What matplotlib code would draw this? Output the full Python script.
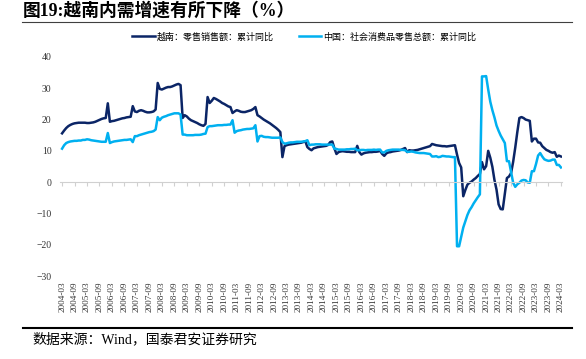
import numpy as np
import pandas as pd
import matplotlib
matplotlib.use("Agg")
import matplotlib.pyplot as plt
from matplotlib.lines import Line2D

# monthly cumulative yoy (%), 2004-03 .. 2024-03
months = pd.period_range("2004-03", "2024-03", freq="M")

vietnam_yoy = [
    15.6, 16.5, 17.3, 17.9, 18.3, 18.6, 18.8, 18.9, 19.0, 19.0,              # 2004 (Mar-Dec)
    19.0, 19.0, 18.9, 18.9, 19.0, 19.1, 19.3, 19.6, 19.9, 20.2, 20.4, 20.5,  # 2005
    25.2, 19.3, 19.5, 19.6, 19.8, 20.0, 20.2, 20.4, 20.5, 20.7, 20.8, 20.9,  # 2006
    24.3, 22.6, 22.4, 22.8, 23.0, 22.8, 22.5, 22.3, 22.3, 22.4, 22.6, 23.2,  # 2007
    31.7, 29.8, 29.6, 29.9, 30.2, 30.4, 30.4, 30.6, 30.9, 31.2, 31.4, 31.0,  # 2008
    20.5, 21.4, 21.0, 20.3, 19.8, 19.5, 19.2, 18.9, 18.5, 18.2, 18.0, 18.6,  # 2009
    27.2, 25.3, 26.0, 26.9, 26.6, 26.2, 25.8, 25.3, 25.0, 24.6, 24.2, 24.0,  # 2010
    22.1, 22.6, 23.0, 22.8, 22.5, 22.4, 22.4, 22.6, 22.8, 23.0, 23.4, 24.0,  # 2011
    21.4, 21.0, 20.5, 20.0, 19.6, 19.2, 18.8, 18.3, 17.8, 17.3, 16.7, 16.0,  # 2012
    8.0, 11.5, 11.8, 12.0, 12.1, 12.2, 12.3, 12.4, 12.5, 12.6, 12.8, 13.1,   # 2013
    11.2, 10.6, 10.2, 10.8, 11.0, 11.2, 11.3, 11.4, 11.5, 11.6, 11.9, 12.8,  # 2014
    13.0, 10.8, 9.0, 9.6, 9.8, 9.9, 9.8, 9.7, 9.7, 9.6, 9.6, 9.6,           # 2015
    11.6, 9.6, 8.8, 9.2, 9.4, 9.5, 9.6, 9.6, 9.7, 9.7, 9.8, 10.0,           # 2016
    9.0, 8.4, 9.2, 9.5, 9.6, 9.8, 9.9, 10.0, 10.1, 10.3, 10.6, 10.9,        # 2017
    9.6, 10.2, 10.1, 10.1, 10.2, 10.3, 10.5, 10.7, 10.9, 11.1, 11.3, 11.5,  # 2018
    12.2, 12.0, 11.8, 11.7, 11.6, 11.5, 11.5, 11.4, 11.5, 11.6, 11.7, 11.8,  # 2019
    8.8, 6.1, 4.7, -4.5, -2.5, -0.8, -0.2, 0.2, 0.8, 1.3, 2.0, 2.6,         # 2020
    6.4, 4.1, 5.1, 10.0, 7.8, 4.9, 0.7, -2.4, -7.1, -8.6, -8.7, -3.8,       # 2021
    1.3, 1.8, 2.9, 6.5, 11.0, 16.0, 20.5, 20.8, 20.5, 20.0, 19.8, 19.6,     # 2022
    13.0, 13.9, 13.9, 12.7, 12.6, 11.5, 10.9, 10.3, 10.0, 9.6, 9.4, 9.6,    # 2023
    8.1, 8.5, 8.2,                                                           # 2024
]

china_yoy = [
    10.7, 11.8, 12.5, 12.8, 13.0, 13.1, 13.2, 13.2, 13.3, 13.3,              # 2004 (Mar-Dec)
    13.5, 13.5, 13.7, 13.6, 13.4, 13.3, 13.2, 13.1, 13.0, 12.9, 12.9, 12.9,  # 2005
    15.7, 12.5, 12.8, 13.0, 13.1, 13.2, 13.3, 13.4, 13.5, 13.5, 13.6, 13.7,  # 2006
    12.8, 14.7, 14.7, 15.0, 15.2, 15.4, 15.6, 15.8, 16.0, 16.1, 16.3, 16.8,  # 2007
    20.8, 19.8, 20.6, 20.9, 21.1, 21.4, 21.6, 21.8, 22.0, 22.0, 22.0, 21.6,  # 2008
    15.2, 15.2, 15.0, 15.0, 15.0, 15.0, 15.1, 15.1, 15.1, 15.2, 15.4, 15.5,  # 2009
    17.6, 17.9, 17.9, 18.0, 18.1, 18.2, 18.2, 18.2, 18.3, 18.3, 18.4, 18.4,  # 2010
    19.8, 15.8, 16.3, 16.5, 16.6, 16.8, 16.9, 17.0, 17.0, 17.1, 17.2, 18.2,  # 2011
    13.0, 14.7, 14.8, 14.5, 14.4, 14.4, 14.3, 14.2, 14.2, 14.2, 14.2, 14.3,  # 2012
    12.8, 12.3, 12.4, 12.6, 12.7, 12.7, 12.8, 12.9, 12.9, 12.9, 13.0, 13.1,  # 2013
    13.4, 11.8, 12.0, 12.0, 12.1, 12.1, 12.1, 12.0, 12.0, 12.0, 12.0, 12.0,  # 2014
    12.0, 10.7, 10.6, 10.4, 10.4, 10.4, 10.4, 10.5, 10.5, 10.6, 10.6, 10.7,  # 2015
    10.2, 10.2, 10.3, 10.3, 10.2, 10.3, 10.3, 10.3, 10.4, 10.3, 10.4, 10.4,  # 2016
    9.5, 9.5, 10.0, 10.2, 10.3, 10.4, 10.4, 10.4, 10.4, 10.3, 10.3, 10.2,   # 2017
    9.7, 9.7, 9.8, 9.7, 9.5, 9.4, 9.3, 9.3, 9.3, 9.2, 9.1, 9.0,             # 2018
    8.2, 8.2, 8.3, 8.0, 8.1, 8.4, 8.3, 8.2, 8.2, 8.1, 8.0, 8.0,             # 2019
    -20.5, -20.5, -17.5, -14.5, -12.5, -10.5, -9.0, -8.0, -6.8, -5.8, -4.8, -3.9,  # 2020
    33.8, 33.8, 33.9, 29.6, 25.7, 23.0, 20.7, 18.1, 16.4, 14.9, 13.7, 12.5,  # 2021
    6.7, 6.7, 3.3, -0.2, -1.5, -0.7, -0.2, 0.5, 0.7, 0.6, -0.1, -0.2,       # 2022
    3.5, 3.5, 5.8, 8.5, 9.3, 8.2, 7.3, 7.0, 6.8, 6.9, 7.2, 7.2,             # 2023
    5.5, 5.5, 4.7,                                                           # 2024
]

tick_labels = [m.strftime("%Y-%m") for m in months[::6]]

plt.rcParams["font.family"] = ["Liberation Serif", "Noto Sans CJK SC"]
plt.rcParams["axes.unicode_minus"] = True

navy = "#0B2566"
cyan = "#00B0F0"

fig = plt.figure(figsize=(5.86, 3.59), dpi=100)
ax = fig.add_axes([60 / 586, 1 - 276 / 359, 502 / 586, 219 / 359])

x = np.arange(len(months))
ax.plot(x, vietnam_yoy, color=navy, lw=1.8, label="越南：零售销售额：累计同比")
ax.plot(x, china_yoy, color=cyan, lw=1.8, label="中国：社会消费品零售总额：累计同比")

ax.set_xlim(-1, 240.5)
ax.set_ylim(-30, 40)
ax.set_yticks(range(-30, 41, 10))
ax.tick_params(axis="y", length=0, pad=6, labelsize=7, labelcolor="#333333")

for side in ["top", "right", "left"]:
    ax.spines[side].set_visible(False)
ax.spines["bottom"].set_position(("data", 0))
ax.spines["bottom"].set_color("#D0D0D0")
ax.spines["bottom"].set_linewidth(0.8)
ax.set_xticks(x[::6])
ax.tick_params(axis="x", direction="out", length=3, color="#D0D0D0", labelbottom=False)

# labels sit at the bottom of the plot, not on the zero line
sec = ax.secondary_xaxis(0)
sec.set_xticks(x[::6], labels=tick_labels)
sec.tick_params(axis="x", length=0, pad=4, labelsize=6.6, labelrotation=90, labelcolor="#333333")
sec.spines["bottom"].set_visible(False)

fig.legend(loc="center", bbox_to_anchor=(0.519, 1 - 37 / 359), ncol=2, frameon=False,
           fontsize=6.5, handlelength=2.5, handletextpad=0.2, columnspacing=2.8)

fig.text(23 / 586, 1 - 11 / 359, "图19:越南内需增速有所下降（%）", fontsize=12.8,
         fontweight="bold", ha="left", va="center")
fig.add_artist(Line2D([22 / 586, 572 / 586], [1 - 22 / 359] * 2, color="#404040", lw=0.8,
                      transform=fig.transFigure))
fig.add_artist(Line2D([23 / 586, 572 / 586], [1 - 328 / 359] * 2, color="black", lw=1.5,
                      transform=fig.transFigure))
fig.text(32 / 586, 1 - 339 / 359, "数据来源：Wind，国泰君安证券研究", fontsize=10,
         ha="left", va="center")

fig.savefig("out.png", dpi=100)
